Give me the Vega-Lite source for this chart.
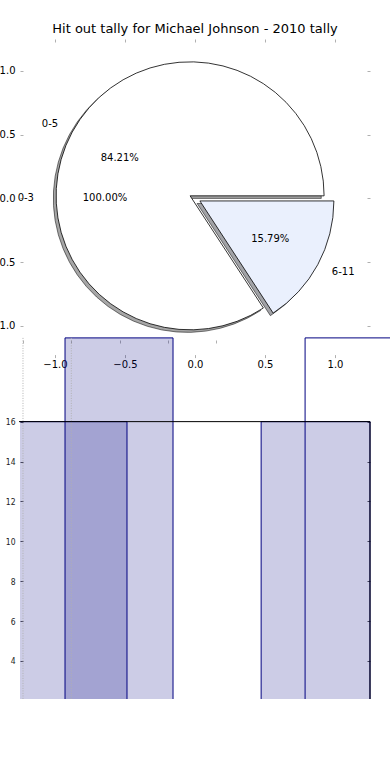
{
  "$schema": "https://vega.github.io/schema/vega-lite/v6.json",
  "autosize": {"type": "none"},
  "width": 370,
  "height": 660,
  "padding": {"left": 20, "top": 39, "right": 0, "bottom": 81},
  "background": "white",
  "title": {"text": "Hit out tally for Michael Johnson - 2010 tally", "fontSize": 13, "font": "DejaVu Sans", "fontWeight": "normal", "color": "#000000", "anchor": "middle", "dx": -10, "offset": 3},
  "config": {
    "view": {"stroke": null},
    "axis": {"domain": false, "grid": false, "labelFont": "DejaVu Sans", "labelFontSize": 10, "labelColor": "#000000", "tickColor": "#b0b0b0", "tickSize": -3, "tickWidth": 1}
  },
  "datasets": {
    "pie": [{"range": "0-5", "share": 0.8421}, {"range": "6-11", "share": 0.1579}],
    "full": [{"range": "0-3", "share": 1.0}],
    "bars": [
      {"series": "A", "bin": 1, "start": -0.083, "end": 2.153, "count": 16},
      {"series": "A", "bin": 2, "start": 4.93, "end": 7.184, "count": 16},
      {"series": "B", "bin": 1, "start": 0.87, "end": 3.106, "count": 20.2},
      {"series": "B", "bin": 2, "start": 5.84, "end": 7.9, "count": 20.2}
    ],
    "grid": [{"tick": 0}, {"tick": 1}],
    "frame": [{"part": "frame"}]
  },
  "layer": [
    {
      "data": {"name": "pie"},
      "transform": [{"stack": "share", "groupby": [], "as": ["s0", "s1"]}],
      "layer": [
        {
          "transform": [{"filter": "datum.range === '0-5'"}],
          "mark": {"type": "arc", "outerRadius": 134, "fill": "#4d4d4d", "fillOpacity": 0.5, "stroke": "#000000", "strokeOpacity": 0.5, "strokeWidth": 1},
          "encoding": {
            "x": {"datum": -0.055, "type": "quantitative", "scale": {"domain": [-1.25, 1.3929], "nice": false, "zero": false}, "axis": {"orient": "top", "values": [-1, -0.5, 0, 0.5, 1], "labels": false, "title": null}},
            "y": {"datum": 0.0, "type": "quantitative", "scale": {"domain": [-3.926, 1.25], "nice": false, "zero": false}, "axis": {"orient": "right", "offset": -20, "values": [-1, -0.5, 0, 0.5, 1], "labels": false, "title": null}},
            "theta": {"field": "s0", "type": "quantitative", "scale": {"domain": [0, 1], "range": [1.5708, -4.7124]}},
            "theta2": {"field": "s1"}
          }
        },
        {
          "transform": [{"filter": "datum.range === '6-11'"}],
          "mark": {"type": "arc", "outerRadius": 134, "fill": "#464850", "fillOpacity": 0.5, "stroke": "#000000", "strokeOpacity": 0.5, "strokeWidth": 1},
          "encoding": {
            "x": {"datum": 0.015, "type": "quantitative", "scale": {"domain": [-1.25, 1.3929], "nice": false, "zero": false}, "axis": {"orient": "top", "values": [-1, -0.5, 0, 0.5, 1], "labels": false, "title": null}},
            "y": {"datum": -0.04, "type": "quantitative", "scale": {"domain": [-3.926, 1.25], "nice": false, "zero": false}, "axis": {"orient": "right", "offset": -20, "values": [-1, -0.5, 0, 0.5, 1], "labels": false, "title": null}},
            "theta": {"field": "s0", "type": "quantitative", "scale": {"domain": [0, 1], "range": [1.5708, -4.7124]}},
            "theta2": {"field": "s1"}
          }
        }
      ]
    },
    {
      "layer": [
        {
          "data": {"name": "pie"},
          "transform": [{"stack": "share", "groupby": [], "as": ["s0", "s1"]}, {"filter": "datum.range === '0-5'"}],
          "mark": {"type": "arc", "outerRadius": 134, "fill": "#ffffff", "stroke": "#000000", "strokeWidth": 0.8},
          "encoding": {
            "x": {"datum": -0.035, "type": "quantitative", "scale": {"domain": [-1.25, 1.3929], "nice": false, "zero": false}, "axis": {"orient": "bottom", "offset": -341.4, "values": [-1, -0.5, 0, 0.5, 1], "format": ".1f", "labelPadding": 5, "title": null}},
            "y": {"datum": 0.02, "type": "quantitative", "scale": {"domain": [-3.926, 1.25], "nice": false, "zero": false}, "axis": {"orient": "left", "values": [-1, -0.5, 0, 0.5, 1], "format": ".1f", "labelPadding": 8, "title": null}},
            "theta": {"field": "s0", "type": "quantitative", "scale": {"domain": [0, 1], "range": [1.5708, -4.7124]}},
            "theta2": {"field": "s1"}
          }
        },
        {
          "data": {"name": "pie"},
          "transform": [{"stack": "share", "groupby": [], "as": ["s0", "s1"]}, {"filter": "datum.range === '6-11'"}],
          "mark": {"type": "arc", "outerRadius": 134, "fill": "#eaf0fd", "stroke": "#000000", "strokeWidth": 0.8},
          "encoding": {
            "x": {"datum": 0.035, "type": "quantitative"},
            "y": {"datum": -0.02, "type": "quantitative"},
            "theta": {"field": "s0", "type": "quantitative"},
            "theta2": {"field": "s1"}
          }
        },
        {
          "data": {"name": "pie"},
          "mark": {"type": "text", "radius": 80, "font": "DejaVu Sans", "fontSize": 10, "color": "#000000"},
          "encoding": {
            "x": {"datum": -0.035, "type": "quantitative"},
            "y": {"datum": 0.02, "type": "quantitative"},
            "theta": {"field": "share", "type": "quantitative", "stack": true},
            "order": {"field": "range", "type": "ordinal"},
            "text": {"condition": {"test": "datum.range === '0-5'", "field": "share", "type": "quantitative", "format": ".2%"}, "value": ""}
          }
        },
        {
          "data": {"name": "pie"},
          "mark": {"type": "text", "radius": 150, "align": "right", "font": "DejaVu Sans", "fontSize": 10, "color": "#000000"},
          "encoding": {
            "x": {"datum": -0.035, "type": "quantitative"},
            "y": {"datum": 0.02, "type": "quantitative"},
            "theta": {"field": "share", "type": "quantitative", "stack": true},
            "order": {"field": "range", "type": "ordinal"},
            "text": {"condition": {"test": "datum.range === '0-5'", "field": "range", "type": "nominal"}, "value": ""}
          }
        },
        {
          "data": {"name": "pie"},
          "mark": {"type": "text", "radius": 80, "font": "DejaVu Sans", "fontSize": 10, "color": "#000000"},
          "encoding": {
            "x": {"datum": 0.035, "type": "quantitative"},
            "y": {"datum": -0.02, "type": "quantitative"},
            "theta": {"field": "share", "type": "quantitative", "stack": true},
            "order": {"field": "range", "type": "ordinal"},
            "text": {"condition": {"test": "datum.range === '6-11'", "field": "share", "type": "quantitative", "format": ".2%"}, "value": ""}
          }
        },
        {
          "data": {"name": "pie"},
          "mark": {"type": "text", "radius": 150, "align": "left", "font": "DejaVu Sans", "fontSize": 10, "color": "#000000"},
          "encoding": {
            "x": {"datum": 0.035, "type": "quantitative"},
            "y": {"datum": -0.02, "type": "quantitative"},
            "theta": {"field": "share", "type": "quantitative", "stack": true},
            "order": {"field": "range", "type": "ordinal"},
            "text": {"condition": {"test": "datum.range === '6-11'", "field": "range", "type": "nominal"}, "value": ""}
          }
        },
        {
          "data": {"name": "full"},
          "mark": {"type": "text", "radius": 90, "font": "DejaVu Sans", "fontSize": 10, "color": "#000000"},
          "encoding": {
            "x": {"datum": 0, "type": "quantitative"},
            "y": {"datum": 0, "type": "quantitative"},
            "theta": {"field": "share", "type": "quantitative", "stack": true},
            "text": {"field": "share", "type": "quantitative", "format": ".2%"}
          }
        },
        {
          "data": {"name": "full"},
          "mark": {"type": "text", "radius": 161, "align": "right", "font": "DejaVu Sans", "fontSize": 10, "color": "#000000"},
          "encoding": {
            "x": {"datum": 0, "type": "quantitative"},
            "y": {"datum": 0, "type": "quantitative"},
            "theta": {"field": "share", "type": "quantitative", "stack": true},
            "text": {"field": "range", "type": "nominal"}
          }
        }
      ]
    },
    {
      "data": {"name": "bars"},
      "layer": [
        {
          "transform": [{"filter": "datum.series === 'A'"}],
          "mark": {"type": "rect", "fill": "#000080", "fillOpacity": 0.2, "stroke": "#000080", "strokeWidth": 1, "clip": true},
          "encoding": {
            "x": {"field": "start", "type": "quantitative", "scale": {"domain": [-0.062, 7.598], "nice": false, "zero": false}, "axis": {"orient": "top", "offset": -301, "values": [0, 1, 2, 3, 4], "labels": false, "title": null}},
            "x2": {"field": "end"},
            "y": {"field": "count", "type": "quantitative", "scale": {"domain": [2.09, 35.19], "nice": false, "zero": false}, "axis": {"orient": "left", "values": [4, 6, 8, 10, 12, 14, 16], "labelFont": "DejaVu Sans Condensed", "labelFontSize": 8.5, "labelColor": "#222222", "tickColor": "#555555", "labelPadding": 8, "title": null}},
            "y2": {"datum": 0}
          }
        },
        {
          "transform": [{"filter": "datum.series === 'B' && datum.bin === 1"}],
          "mark": {"type": "rect", "fill": "#000080", "fillOpacity": 0.2, "stroke": "#000080", "strokeWidth": 1, "clip": true},
          "encoding": {
            "x": {"field": "start", "type": "quantitative"},
            "x2": {"field": "end"},
            "y": {"field": "count", "type": "quantitative"},
            "y2": {"datum": 0}
          }
        },
        {
          "transform": [{"filter": "datum.series === 'B' && datum.bin === 2"}],
          "mark": {"type": "rect", "fill": "#000080", "fillOpacity": 0, "stroke": "#000080", "strokeWidth": 1, "clip": true},
          "encoding": {
            "x": {"field": "start", "type": "quantitative"},
            "x2": {"field": "end"},
            "y": {"field": "count", "type": "quantitative"},
            "y2": {"datum": 0}
          }
        },
        {
          "data": {"name": "grid"},
          "mark": {"type": "rule", "color": "#b0b0b0", "strokeDash": [1, 1.5], "strokeWidth": 1, "clip": true},
          "encoding": {
            "x": {"field": "tick", "type": "quantitative"},
            "y": {"datum": 20.2},
            "y2": {"datum": 0}
          }
        }
      ]
    },
    {
      "data": {"name": "frame"},
      "layer": [
        {
          "mark": {"type": "rule", "color": "#000000", "strokeWidth": 1},
          "encoding": {
            "x": {"datum": -0.083, "type": "quantitative", "scale": {"domain": [-0.062, 7.598], "nice": false, "zero": false}, "axis": null},
            "x2": {"datum": 7.184},
            "y": {"datum": 16, "type": "quantitative", "scale": {"domain": [2.09, 35.19], "nice": false, "zero": false}, "axis": {"orient": "right", "offset": -20, "values": [2, 4, 6, 8, 10, 12, 14, 16], "labels": false, "tickColor": "#555555", "title": null}}
          }
        },
        {
          "mark": {"type": "rule", "color": "#000000", "strokeWidth": 1, "clip": true},
          "encoding": {
            "x": {"datum": -0.083, "type": "quantitative"},
            "y": {"datum": 16, "type": "quantitative"},
            "y2": {"datum": 0}
          }
        },
        {
          "mark": {"type": "rule", "color": "#000000", "strokeWidth": 1, "clip": true},
          "encoding": {
            "x": {"datum": 7.184, "type": "quantitative"},
            "y": {"datum": 16, "type": "quantitative"},
            "y2": {"datum": 0}
          }
        }
      ]
    }
  ],
  "resolve": {"scale": {"x": "independent", "y": "independent"}}
}
